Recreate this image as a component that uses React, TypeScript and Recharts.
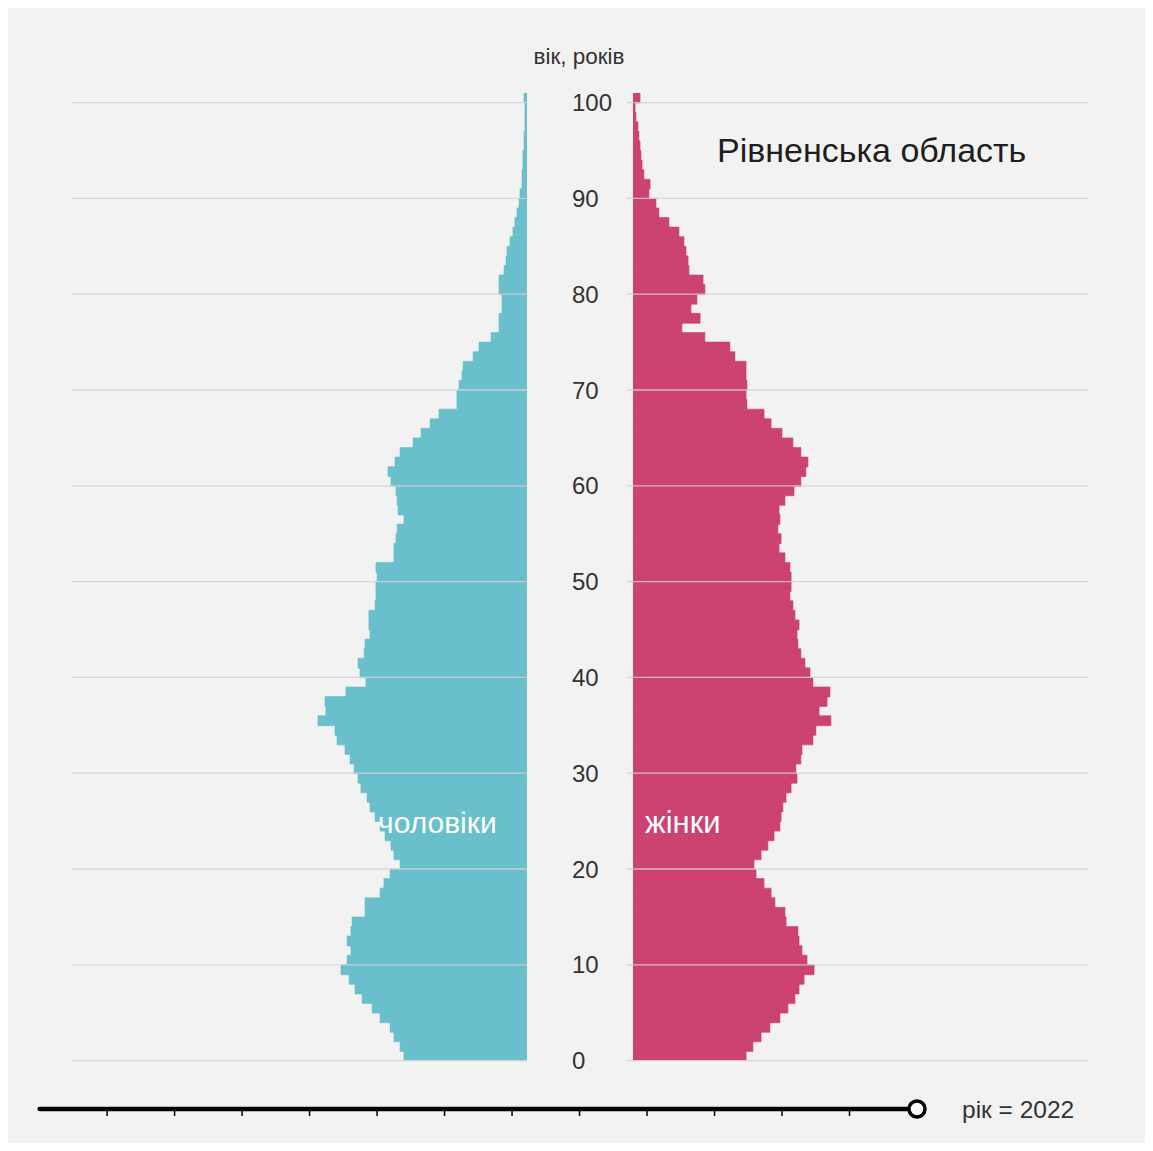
import React from "react";
import { BarChart, Bar, XAxis, YAxis, ReferenceLine } from "recharts";

// age (years) of each bar, 100 = 100+
const ages = [
  0, 1, 2, 3, 4, 5, 6, 7, 8, 9, 10, 11, 12, 13, 14, 15, 16, 17, 18, 19,
  20, 21, 22, 23, 24, 25, 26, 27, 28, 29, 30, 31, 32, 33, 34, 35, 36, 37, 38, 39,
  40, 41, 42, 43, 44, 45, 46, 47, 48, 49, 50, 51, 52, 53, 54, 55, 56, 57, 58, 59,
  60, 61, 62, 63, 64, 65, 66, 67, 68, 69, 70, 71, 72, 73, 74, 75, 76, 77, 78, 79,
  80, 81, 82, 83, 84, 85, 86, 87, 88, 89, 90, 91, 92, 93, 94, 95, 96, 97, 98, 99, 100,
];

// men, persons per single year of age
const males = [
  5410, 5580, 5850, 6020, 6460, 6810, 7250, 7560, 7820, 8180,
  7910, 7740, 7910, 7740, 7690, 7120, 7120, 6460, 6290, 6020,
  5580, 5850, 5980, 6240, 6460, 6680, 6900, 7030, 7300, 7430,
  7600, 7780, 8000, 8350, 8440, 9190, 8840, 8880, 7960, 7080,
  7340, 7430, 7160, 7120, 6900, 6950, 6950, 6680, 6640, 6640,
  6590, 6640, 5850, 5850, 5760, 5710, 5410, 5670, 5710, 5760,
  5980, 6110, 5800, 5580, 5010, 4660, 4260, 3870, 3080, 3080,
  2990, 2860, 2810, 2370, 2110, 1580, 1230, 1230, 1100, 1100,
  1230, 1230, 1010, 920, 880, 750, 620, 530, 440, 350,
  310, 220, 220, 180, 180, 130, 130, 90, 90, 90, 130,
];

// women, persons per single year of age
const females = [
  4970, 5270, 5630, 6020, 6460, 6810, 7120, 7300, 7520, 7960,
  7650, 7430, 7300, 7250, 6730, 6680, 6240, 6070, 5760, 5410,
  5320, 5630, 5930, 6200, 6460, 6510, 6590, 6730, 6950, 7210,
  7160, 7380, 7430, 7910, 8040, 8700, 8180, 8530, 8660, 7910,
  7780, 7560, 7380, 7250, 7210, 7300, 7120, 7030, 6900, 6950,
  6950, 6900, 6680, 6420, 6510, 6370, 6460, 6420, 6680, 7080,
  7380, 7600, 7690, 7380, 7030, 6550, 6070, 5760, 5010, 4970,
  5010, 4970, 4970, 4480, 4260, 3160, 2150, 2950, 2550, 2810,
  3160, 3080, 2460, 2420, 2330, 2240, 2020, 1580, 1140, 1010,
  700, 750, 480, 400, 350, 310, 260, 220, 130, 90, 310,
];

const ageTicks = [0, 10, 20, 30, 40, 50, 60, 70, 80, 90, 100];
const ageDomain = [0, 101];
const valueDomain = [0, 20000];

const sliderYears = [2009, 2010, 2011, 2012, 2013, 2014, 2015, 2016, 2017, 2018, 2019, 2020, 2021, 2022];
const currentYear = 2022;

const title = "Рівненська область";
const ageAxisTitle = "вік, років";
const maleLabel = "чоловіки";
const femaleLabel = "жінки";

const data = ages.map((age, i) => ({
  age,
  band: age + 0.5,
  male: males[i],
  female: females[i],
}));

const BG = "#f2f2f2";
const MALE = "#69bfcc";
const FEMALE = "#cc4270";
const GRID = "#d2d2d2";
const FONT = "'Liberation Sans', Arial, Helvetica, sans-serif";

const PLOT_W = 455;
const PLOT_H = 967.6;
const MT = 6;
const MB = 16;
const CHART_H = PLOT_H + MT + MB;
const AXIS_W = 61;

const AgeTick = (props: any) => {
  const { y, payload } = props;
  return (
    <text x={0} y={y} dy="0.36em" textAnchor="start" fontSize={24} fill="#333" fontFamily={FONT}>
      {payload.value}
    </text>
  );
};

const gridLines = (ageTicks as number[]).map((t) => (
  <ReferenceLine key={t} y={t} stroke={GRID} strokeOpacity={0.85} strokeWidth={1.3} ifOverflow="visible" />
));

export default function App() {
  const sx0 = 31.6;
  const sx1 = 909;
  const yFirst = sliderYears[0];
  const yLast = sliderYears[sliderYears.length - 1];
  const sxOf = (yr: number) => sx0 + ((yr - yFirst) / (yLast - yFirst)) * (sx1 - sx0);
  const sy = 21;

  return (
    <div
      style={{
        position: "relative",
        width: 1137,
        height: 1135,
        background: BG,
        fontFamily: FONT,
        overflow: "hidden",
      }}
    >
      {/* left: men */}
      <div style={{ position: "absolute", left: 64, top: 85.4 - MT }}>
        <BarChart
          width={PLOT_W + 6}
          height={CHART_H}
          data={data}
          layout="vertical"
          margin={{ top: MT, right: 0, bottom: MB, left: 0 }}
          barCategoryGap={0}
          barGap={0}
        >
          <XAxis type="number" domain={valueDomain} reversed hide allowDataOverflow />
          <YAxis
            type="number"
            dataKey="band"
            orientation="right"
            domain={ageDomain}
            ticks={ageTicks}
            interval={0}
            reversed
            width={6}
            tickSize={6}
            tick={false}
            axisLine={false}
            tickLine={{ stroke: GRID, strokeWidth: 1.3 }}
            allowDataOverflow
          />
          <Bar dataKey="male" fill={MALE} stroke={MALE} strokeWidth={0.6} isAnimationActive={false} />
          {gridLines}
        </BarChart>
      </div>

      {/* right: women */}
      <div style={{ position: "absolute", left: 564, top: 85.4 - MT }}>
        <BarChart
          width={PLOT_W + AXIS_W}
          height={CHART_H}
          data={data}
          layout="vertical"
          margin={{ top: MT, right: 0, bottom: MB, left: 0 }}
          barCategoryGap={0}
          barGap={0}
        >
          <XAxis type="number" domain={valueDomain} hide allowDataOverflow />
          <YAxis
            type="number"
            dataKey="band"
            orientation="left"
            domain={ageDomain}
            ticks={ageTicks}
            interval={0}
            reversed
            width={AXIS_W}
            tickSize={6}
            tick={<AgeTick />}
            axisLine={false}
            tickLine={{ stroke: GRID, strokeWidth: 1.3 }}
            allowDataOverflow
          />
          <Bar dataKey="female" fill={FEMALE} stroke={FEMALE} strokeWidth={0.6} isAnimationActive={false} />
          {gridLines}
        </BarChart>
      </div>

      {/* texts */}
      <div
        style={{
          position: "absolute",
          left: 571,
          top: 35,
          transform: "translateX(-50%)",
          fontSize: 22.5,
          lineHeight: "28px",
          color: "#333",
          whiteSpace: "nowrap",
        }}
      >
        {ageAxisTitle}
      </div>
      <div
        style={{
          position: "absolute",
          left: 709,
          top: 121,
          fontSize: 34,
          lineHeight: "42px",
          color: "#1e1e1e",
          whiteSpace: "nowrap",
        }}
      >
        {title}
      </div>
      <div
        style={{
          position: "absolute",
          left: 370,
          top: 796,
          fontSize: 30,
          lineHeight: "38px",
          color: "#fff",
          whiteSpace: "nowrap",
        }}
      >
        {maleLabel}
      </div>
      <div
        style={{
          position: "absolute",
          left: 637,
          top: 796,
          fontSize: 31,
          lineHeight: "38px",
          color: "#fff",
          whiteSpace: "nowrap",
        }}
      >
        {femaleLabel}
      </div>

      {/* year slider */}
      <svg style={{ position: "absolute", left: 0, top: 1080 }} width={1137} height={50}>
        <line x1={sxOf(yFirst)} y1={sy} x2={sxOf(currentYear)} y2={sy} stroke="#000" strokeWidth={4.5} strokeLinecap="round" />
        {sliderYears.slice(1, -1).map((yr) => (
          <line key={yr} x1={sxOf(yr)} y1={sy} x2={sxOf(yr)} y2={sy + 7} stroke="#000" strokeWidth={1.5} />
        ))}
        <circle cx={sxOf(currentYear)} cy={sy} r={8} fill="#fff" stroke="#000" strokeWidth={3.5} />
        <text x={954} y={sy} dy="0.36em" fontSize={24.5} fill="#333" fontFamily={FONT}>
          {`рік = ${currentYear}`}
        </text>
      </svg>
    </div>
  );
}
